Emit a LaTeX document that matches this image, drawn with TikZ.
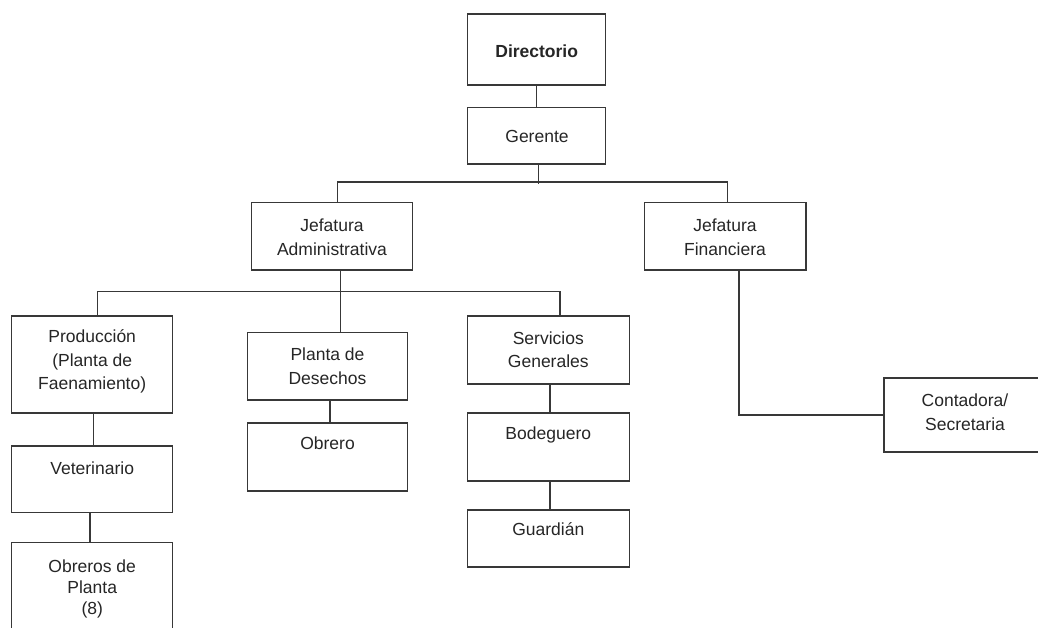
\documentclass[tikz,border=0pt]{standalone}
\usepackage{fontspec}
\setmainfont{Liberation Sans}
\begin{document}
\begin{tikzpicture}[x=1pt,y=-1pt,
  box/.style={draw=black!78, line width=1.5pt, rectangle, inner sep=0pt},
  link/.style={draw=black!78, line width=1.5pt},
  txt/.style={font=\fontsize{17.5}{23.5}\selectfont, text=black!85, align=center, inner sep=0pt}]
\useasboundingbox (0,0) rectangle (1038,628);
\clip (0,0) rectangle (1038,628);
\fill[white] (0,0) rectangle (1038,628);
% boxes
\node[box, minimum width=138, minimum height=71] (dir) at (536.7,49.5) {};
\node[box, minimum width=138, minimum height=56.3] (ger) at (536.7,135.85) {};
\node[box, minimum width=160.6, minimum height=67.3] (jadm) at (332,236.35) {};
\node[box, minimum width=161.7, minimum height=67.3] (jfin) at (725.15,236.35) {};
\node[box, minimum width=161, minimum height=97] (prod) at (92.2,364.5) {};
\node[box, minimum width=161, minimum height=66.7] (vet) at (92.2,479.35) {};
\node[box, minimum width=161, minimum height=107.3] (obp) at (92.2,596.35) {};
\node[box, minimum width=160.4, minimum height=67.7] (pdes) at (327.5,366.15) {};
\node[box, minimum width=160.4, minimum height=68] (obr) at (327.5,457) {};
\node[box, minimum width=162, minimum height=68] (sgen) at (548.3,350) {};
\node[box, minimum width=162, minimum height=68] (bod) at (548.3,447) {};
\node[box, minimum width=162, minimum height=57] (gua) at (548.3,538.5) {};
\node[box, minimum width=162, minimum height=74] (cont) at (965,415) {};
% texts
\node[txt, font=\fontsize{17.5}{23.5}\selectfont\bfseries] (tdir) at (536.7,51) {Directorio};
\node[txt] (tger) at (537,136) {Gerente};
\node[txt] (tjadm) at (332,237.5) {Jefatura\\Administrativa};
\node[txt] (tjfin) at (725,237.5) {Jefatura\\Financiera};
\node[txt] (tprod) at (92.2,361.5) {Producción\\(Planta de\\Faenamiento)};
\node[txt] (tvet) at (92.2,468) {Veterinario};
\node[txt] (tobp) at (92.2,588.5) {Obreros de\\[-2.5pt]Planta\\[-2.5pt](8)};
\node[txt] (tpdes) at (327.5,366) {Planta de\\Desechos};
\node[txt] (tobr) at (327.5,443) {Obrero};
\node[txt] (tsgen) at (548.3,349.5) {Servicios\\Generales};
\node[txt] (tbod) at (548.3,434.8) {Bodeguero};
\node[txt] (tgua) at (548.3,529.5) {Guardián};
\node[txt] (tcont) at (965,412) {Contadora/\\Secretaria};
% connectors
\draw[link] (dir) -- (ger);
\draw[link] ([xshift=1.6pt]ger.south) -- ++(0,19);
\draw[link] ([xshift=5.7pt]jadm.north) -- ++(0,-19.7) -| ([xshift=2.15pt]jfin.north);
\draw[link] ([xshift=8.5pt]jadm.south) -- ([xshift=13pt]pdes.north);
\draw[link] ([xshift=5.5pt]prod.north) -- ++(0,-24) -| ([xshift=11.7pt]sgen.north);
\draw[link] ([xshift=1.1pt]prod.south) -- ([xshift=1.1pt]vet.north);
\draw[link] ([xshift=-2.2pt]vet.south) -- ([xshift=-2.2pt]obp.north);
\draw[link] ([xshift=2.5pt]pdes.south) -- ([xshift=2.5pt]obr.north);
\draw[link] ([xshift=1.7pt]sgen.south) -- ([xshift=1.7pt]bod.north);
\draw[link] ([xshift=1.7pt]bod.south) -- ([xshift=1.7pt]gua.north);
\draw[link] ([xshift=13.85pt]jfin.south) |- (cont.west);
\end{tikzpicture}
\end{document}
